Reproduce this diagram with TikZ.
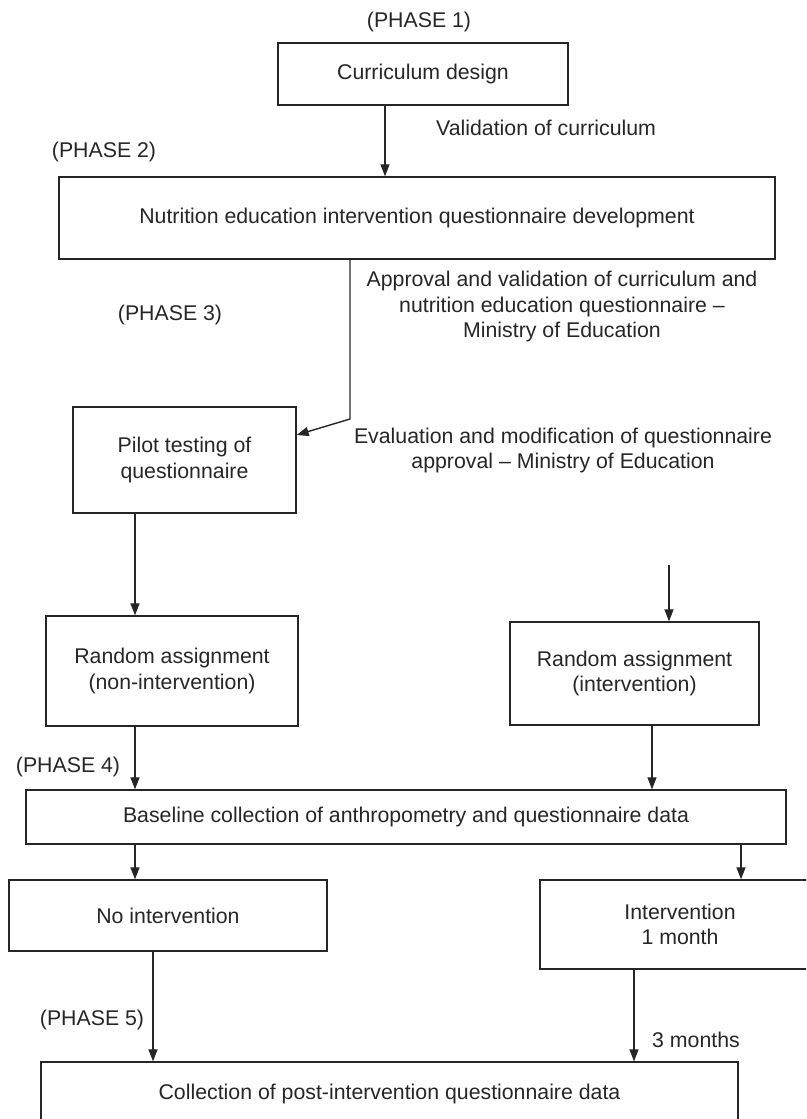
\documentclass[tikz,border=0pt]{standalone}
\usepackage{fontspec}
\setmainfont{Liberation Sans}
\usetikzlibrary{arrows.meta}
\newcommand\diagfont{\fontsize{21.3}{25.5}\selectfont}
\begin{document}
\begin{tikzpicture}[x=1pt,y=-1pt,
  box/.style={draw=black!85, line width=1.3pt, align=center, inner sep=0pt, font=\diagfont, text=black!85},
  lbl/.style={inner sep=0pt, align=center, font=\diagfont, text=black!85},
  arr/.style={draw=black!85, line width=1.2pt, -{Triangle[length=12pt,width=9pt]}}]
\useasboundingbox (0,0) rectangle (806,1119);
\clip (0,0) rectangle (806,1119);

% boxes
\node[box, minimum width=290pt, minimum height=62pt] (cd) at (423,74) {Curriculum design};
\node[box, minimum width=716pt, minimum height=82pt] (nut) at (417,218) {Nutrition education intervention questionnaire development};
\node[box, minimum width=223pt, minimum height=106pt] (pilot) at (184.5,460) {Pilot testing of\\questionnaire};
\node[box, minimum width=252pt, minimum height=110pt] (rna) at (172,671) {Random assignment\\(non-intervention)};
\node[box, minimum width=249pt, minimum height=103pt] (rai) at (634.5,673.5) {Random assignment\\(intervention)};
\node[box, minimum width=760pt, minimum height=54pt] (base) at (406,817) {Baseline collection of anthropometry and questionnaire data};
\node[box, minimum width=318pt, minimum height=71pt] (noi) at (168,915.5) {No intervention};
\node[box, minimum width=280pt, minimum height=89pt] (int) at (680,924.5) {Intervention\\1 month};
\node[box, minimum width=697pt, minimum height=64pt] (coll) at (389.5,1094) {Collection of post-intervention questionnaire data};

% labels
\node[lbl] (ph1) at (419,22) {(PHASE 1)};
\node[lbl, anchor=west] (val) at (436,128) {Validation of curriculum};
\node[lbl] (ph2) at (104,152) {(PHASE 2)};
\node[lbl] (appr) at (562,306.5) {Approval and validation of curriculum and\\nutrition education questionnaire --\\Ministry of Education};
\node[lbl] (ph3) at (170,315) {(PHASE 3)};
\node[lbl] (eval) at (563,450.5) {Evaluation and modification of questionnaire\\approval -- Ministry of Education};
\node[lbl] (ph4) at (68,767) {(PHASE 4)};
\node[lbl] (ph5) at (92,1020) {(PHASE 5)};
\node[lbl, anchor=west] (mon) at (652,1040) {3 months};

% helper coordinates
\coordinate (a1) at (385,0);
\coordinate (b1) at (350,419);
\coordinate (c1) at (135,0);
\coordinate (s1) at (669,565);
\coordinate (d1) at (652,0);
\coordinate (e1) at (741,0);
\coordinate (f1) at (153,0);
\coordinate (g1) at (634,0);
\coordinate (t1) at (0,435);

% connectors
\draw[arr] (cd.south -| a1) -- (nut.north -| a1);
\draw[arr, line width=1.4pt] (nut.south -| b1) -- (b1) -- (pilot.east |- t1);
\draw[arr] (pilot.south -| c1) -- (rna.north -| c1);
\draw[arr] (s1) -- (rai.north -| s1);
\draw[arr] (rna.south -| c1) -- (base.north -| c1);
\draw[arr] (rai.south -| d1) -- (base.north -| d1);
\draw[arr] (base.south -| c1) -- (noi.north -| c1);
\draw[arr] (base.south -| e1) -- (int.north -| e1);
\draw[arr] (noi.south -| f1) -- (coll.north -| f1);
\draw[arr] (int.south -| g1) -- (coll.north -| g1);
\end{tikzpicture}
\end{document}
